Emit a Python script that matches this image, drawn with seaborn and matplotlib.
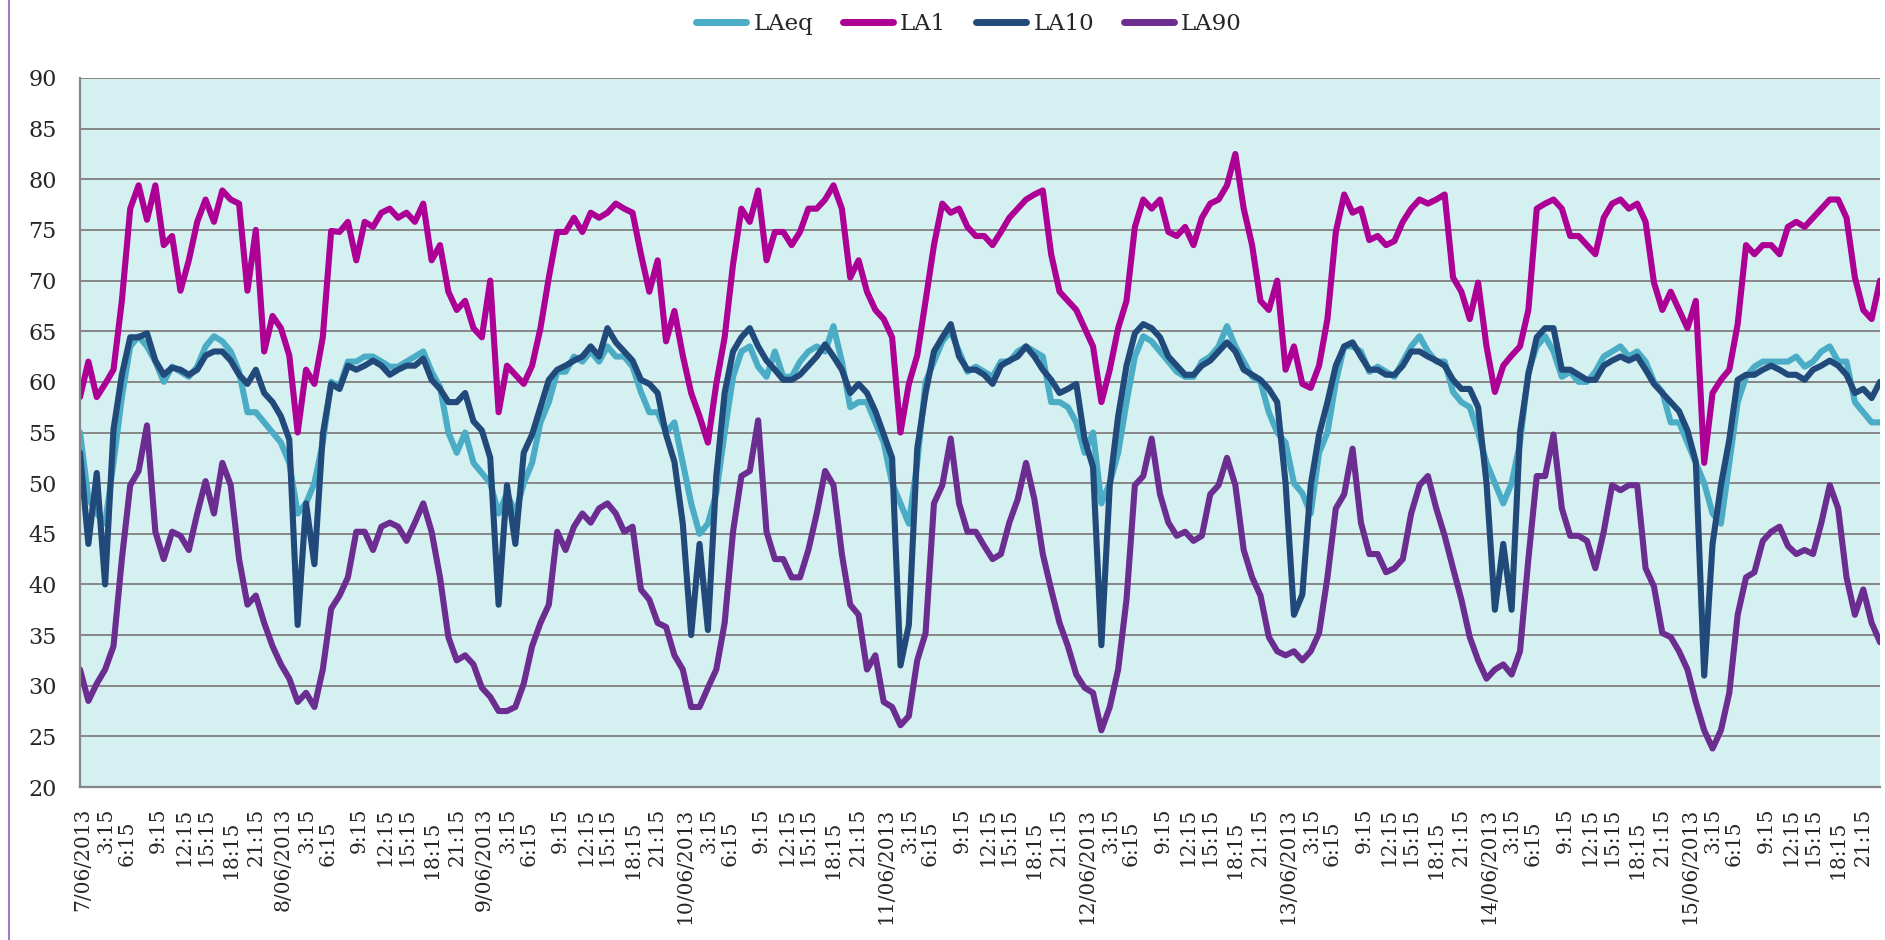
import numpy as np
import pandas as pd
import matplotlib
matplotlib.use("Agg")
import matplotlib.pyplot as plt
from matplotlib.lines import Line2D
from matplotlib.ticker import MultipleLocator
import seaborn as sns

# hourly noise levels (dB), 7/06/2013 00:00 -> 15/06/2013 23:00, one row per day
la_eq = [
    55.0, 48.5, 47.0, 46.0, 52.0, 58.5, 63.5, 64.5, 63.5, 62.0, 60.0, 61.5, 61.0, 60.5, 61.5, 63.5, 64.5, 64.0, 63.0, 61.0, 57.0, 57.0, 56.0, 55.0,
    54.0, 52.0, 47.0, 48.0, 50.0, 54.0, 60.0, 59.5, 62.0, 62.0, 62.5, 62.5, 62.0, 61.5, 61.5, 62.0, 62.5, 63.0, 61.0, 59.5, 55.0, 53.0, 55.0, 52.0,
    51.0, 50.0, 47.0, 49.0, 47.0, 50.0, 52.0, 56.0, 58.0, 61.0, 61.0, 62.5, 62.0, 63.0, 62.0, 63.5, 62.5, 62.5, 61.5, 59.0, 57.0, 57.0, 55.0, 56.0,
    52.0, 48.0, 45.0, 46.0, 49.0, 55.0, 60.5, 63.0, 63.5, 61.5, 60.5, 63.0, 60.5, 60.5, 62.0, 63.0, 63.5, 63.0, 65.5, 62.0, 57.5, 58.0, 58.0, 56.0,
    54.0, 50.0, 48.0, 46.0, 52.0, 60.0, 62.0, 64.0, 65.0, 63.0, 61.0, 61.5, 61.0, 60.5, 62.0, 62.0, 63.0, 63.5, 63.0, 62.5, 58.0, 58.0, 57.5, 56.0,
    53.0, 55.0, 48.0, 50.0, 53.0, 58.0, 62.5, 64.5, 64.0, 63.0, 62.0, 61.0, 60.5, 60.5, 62.0, 62.5, 63.5, 65.5, 63.5, 62.0, 60.5, 60.0, 57.0, 55.0,
    54.0, 50.0, 49.0, 47.0, 53.0, 55.0, 60.0, 63.5, 63.5, 63.0, 61.0, 61.5, 61.0, 60.5, 62.0, 63.5, 64.5, 63.0, 62.0, 62.0, 59.0, 58.0, 57.5, 55.0,
    52.0, 50.0, 48.0, 50.0, 54.0, 61.0, 63.5, 64.5, 63.0, 60.5, 61.0, 60.0, 60.0, 61.0, 62.5, 63.0, 63.5, 62.5, 63.0, 62.0, 60.0, 59.0, 56.0, 56.0,
    54.0, 52.0, 50.0, 47.0, 46.0, 52.0, 58.0, 60.5, 61.5, 62.0, 62.0, 62.0, 62.0, 62.5, 61.5, 62.0, 63.0, 63.5, 62.0, 62.0, 58.0, 57.0, 56.0, 56.0,
]
la_1 = [
    58.5, 62.0, 58.5, 59.8, 61.2, 68.0, 77.1, 79.4, 76.0, 79.4, 73.5, 74.4, 69.0, 72.0, 75.8, 78.0, 75.8, 78.9, 78.0, 77.6, 69.0, 75.0, 63.0, 66.5,
    65.3, 62.6, 55.0, 61.2, 59.8, 64.4, 74.9, 74.8, 75.8, 72.0, 75.8, 75.3, 76.7, 77.1, 76.2, 76.7, 75.8, 77.6, 72.0, 73.5, 68.9, 67.1, 68.0, 65.3,
    64.4, 70.0, 57.0, 61.6, 60.7, 59.8, 61.6, 65.3, 70.3, 74.8, 74.8, 76.2, 74.8, 76.7, 76.2, 76.7, 77.6, 77.1, 76.7, 72.6, 68.9, 72.0, 64.0, 67.0,
    62.6, 58.9, 56.6, 54.0, 59.8, 64.4, 71.6, 77.1, 75.8, 78.9, 72.0, 74.8, 74.8, 73.5, 74.8, 77.1, 77.1, 78.0, 79.4, 77.1, 70.3, 72.0, 68.9, 67.1,
    66.2, 64.4, 55.0, 59.8, 62.6, 68.0, 73.5, 77.6, 76.7, 77.1, 75.3, 74.4, 74.4, 73.5, 74.8, 76.2, 77.1, 78.0, 78.5, 78.9, 72.6, 68.9, 68.0, 67.1,
    65.3, 63.5, 58.0, 61.2, 65.3, 68.0, 75.3, 78.0, 77.1, 78.0, 74.8, 74.4, 75.3, 73.5, 76.2, 77.6, 78.0, 79.4, 82.5, 77.1, 73.5, 68.0, 67.1, 70.0,
    61.2, 63.5, 59.8, 59.4, 61.6, 66.2, 74.8, 78.5, 76.7, 77.1, 74.0, 74.4, 73.5, 73.9, 75.8, 77.1, 78.0, 77.6, 78.0, 78.5, 70.3, 68.9, 66.2, 69.8,
    63.5, 59.0, 61.6, 62.6, 63.5, 67.1, 77.1, 77.6, 78.0, 77.1, 74.4, 74.4, 73.5, 72.6, 76.2, 77.6, 78.0, 77.1, 77.6, 75.8, 69.8, 67.1, 68.9, 67.1,
    65.3, 68.0, 52.0, 58.9, 60.2, 61.2, 65.7, 73.5, 72.6, 73.5, 73.5, 72.6, 75.3, 75.8, 75.3, 76.2, 77.1, 78.0, 78.0, 76.2, 70.3, 67.1, 66.2, 70.0,
]
la_10 = [
    53.0, 44.0, 51.0, 40.0, 55.3, 60.7, 64.4, 64.4, 64.8, 62.1, 60.7, 61.4, 61.2, 60.7, 61.2, 62.6, 63.0, 63.0, 62.1, 60.7, 59.8, 61.2, 58.9, 58.0,
    56.6, 54.3, 36.0, 48.0, 42.0, 54.8, 59.8, 59.3, 61.6, 61.2, 61.6, 62.1, 61.6, 60.7, 61.2, 61.6, 61.6, 62.3, 60.2, 59.3, 58.0, 58.0, 58.9, 56.1,
    55.2, 52.5, 38.0, 49.8, 44.0, 53.0, 54.8, 57.5, 60.2, 61.2, 61.6, 62.1, 62.5, 63.5, 62.5, 65.3, 63.9, 63.0, 62.1, 60.2, 59.8, 58.9, 54.8, 52.1,
    46.0, 35.0, 44.0, 35.5, 50.7, 58.9, 63.0, 64.4, 65.3, 63.5, 62.1, 61.2, 60.2, 60.2, 60.7, 61.6, 62.5, 63.7, 62.5, 61.2, 58.9, 59.8, 58.9, 57.1,
    54.8, 52.5, 32.0, 36.0, 53.4, 58.9, 63.0, 64.4, 65.7, 62.5, 61.2, 61.2, 60.7, 59.8, 61.6, 62.1, 62.5, 63.5, 62.5, 61.2, 60.2, 58.9, 59.3, 59.8,
    54.3, 51.6, 34.0, 49.8, 56.6, 61.6, 64.8, 65.7, 65.3, 64.4, 62.5, 61.6, 60.7, 60.7, 61.6, 62.1, 63.0, 63.9, 63.0, 61.2, 60.7, 60.2, 59.3, 58.0,
    50.0, 37.0, 39.0, 49.8, 54.8, 58.0, 61.6, 63.5, 63.9, 62.5, 61.2, 61.2, 60.7, 60.7, 61.6, 63.0, 63.0, 62.5, 62.1, 61.6, 60.2, 59.3, 59.3, 57.5,
    50.0, 37.5, 44.0, 37.5, 55.0, 60.7, 64.4, 65.3, 65.3, 61.2, 61.2, 60.7, 60.2, 60.2, 61.6, 62.1, 62.5, 62.1, 62.5, 61.2, 59.8, 58.9, 58.0, 57.1,
    55.2, 52.1, 31.0, 44.0, 49.8, 54.3, 60.2, 60.7, 60.7, 61.2, 61.6, 61.2, 60.7, 60.7, 60.2, 61.2, 61.6, 62.1, 61.6, 60.7, 58.9, 59.3, 58.4, 60.0,
]
la_90 = [
    31.6, 28.5, 30.2, 31.6, 33.9, 42.5, 49.8, 51.2, 55.7, 45.2, 42.5, 45.2, 44.8, 43.4, 47.0, 50.2, 47.0, 52.0, 49.8, 42.5, 38.0, 38.9, 36.2, 33.9,
    32.1, 30.7, 28.4, 29.3, 27.9, 31.6, 37.6, 38.9, 40.7, 45.2, 45.2, 43.4, 45.7, 46.1, 45.7, 44.3, 46.1, 48.0, 45.2, 40.7, 34.8, 32.5, 33.0, 32.1,
    29.8, 28.9, 27.5, 27.5, 27.9, 30.2, 33.9, 36.2, 38.0, 45.2, 43.4, 45.7, 47.0, 46.1, 47.5, 48.0, 47.0, 45.2, 45.7, 39.5, 38.5, 36.2, 35.8, 33.0,
    31.6, 27.9, 27.9, 29.8, 31.6, 36.2, 45.2, 50.7, 51.2, 56.2, 45.2, 42.5, 42.5, 40.7, 40.7, 43.4, 47.0, 51.2, 49.8, 43.0, 38.0, 37.0, 31.6, 33.0,
    28.4, 27.9, 26.1, 27.0, 32.5, 35.2, 48.0, 49.8, 54.4, 48.0, 45.2, 45.2, 43.8, 42.5, 43.0, 46.1, 48.4, 52.0, 48.4, 43.0, 39.5, 36.2, 33.9, 31.1,
    29.8, 29.3, 25.6, 27.9, 31.6, 38.5, 49.8, 50.7, 54.4, 48.9, 46.1, 44.8, 45.2, 44.3, 44.8, 48.9, 49.8, 52.5, 49.8, 43.4, 40.7, 38.9, 34.8, 33.4,
    33.0, 33.4, 32.5, 33.4, 35.2, 40.7, 47.5, 48.9, 53.4, 46.1, 43.0, 43.0, 41.2, 41.6, 42.5, 47.0, 49.8, 50.7, 47.5, 44.8, 41.6, 38.5, 34.8, 32.5,
    30.7, 31.6, 32.1, 31.1, 33.4, 42.5, 50.7, 50.7, 54.8, 47.5, 44.8, 44.8, 44.3, 41.6, 45.2, 49.8, 49.3, 49.8, 49.8, 41.6, 39.8, 35.2, 34.8, 33.4,
    31.6, 28.4, 25.6, 23.8, 25.6, 29.3, 37.0, 40.7, 41.2, 44.3, 45.2, 45.7, 43.8, 43.0, 43.4, 43.0, 46.1, 49.8, 47.5, 40.7, 37.0, 39.5, 36.2, 34.3,
]

series_names = ["LAeq", "LA1", "LA10", "LA90"]
series_colors = ["#4BACC6", "#AD0095", "#214A7B", "#6C2D91"]

day_labels = ["7/06/2013", "8/06/2013", "9/06/2013", "10/06/2013", "11/06/2013",
              "12/06/2013", "13/06/2013", "14/06/2013", "15/06/2013"]
hour_labels = ["3:15", "6:15", "9:15", "12:15", "15:15", "18:15", "21:15"]

sns.set_style("white")
plt.rcParams["font.family"] = ["DejaVu Serif"]
plt.rcParams["font.size"] = 15

W, H = 1885, 940
fig = plt.figure(figsize=(W / 100, H / 100), dpi=100)
ax = fig.add_axes([80 / W, 1 - 787 / H, 1800 / W, 709 / H])
ax.set_facecolor("#D5F0F1")

times = pd.date_range("2013-06-07 00:00", periods=len(la_eq), freq="h")
hours = (times - times[0]) / pd.Timedelta(hours=1)
df = pd.DataFrame({"hour": hours, "LAeq": la_eq, "LA1": la_1, "LA10": la_10, "LA90": la_90})
long_df = df.melt(id_vars="hour", var_name="series", value_name="dB")

sns.lineplot(data=long_df, x="hour", y="dB", hue="series", hue_order=series_names,
             palette=dict(zip(series_names, series_colors)),
             legend=False, ax=ax)
for line in ax.lines:
    line.set_linewidth(4.4)
    line.set_solid_joinstyle("round")
    line.set_solid_capstyle("round")

ax.set_xlim(0, 215)
ax.set_ylim(20, 90)
ax.set_xlabel("")
ax.set_ylabel("")
ax.set_yticks(range(20, 91, 5))
ax.yaxis.grid(True, color="#878787", linewidth=1.4)
ax.xaxis.grid(False)
ax.set_axisbelow(True)
for s in ["top", "right"]:
    ax.spines[s].set_visible(False)
for s in ["left", "bottom"]:
    ax.spines[s].set_color("#878787")
    ax.spines[s].set_linewidth(1.6)
ax.tick_params(axis="y", length=5.8, width=1.4, color="#878787", pad=11, labelsize=16)

# x labels: date at midnight then every 3 hours
label_offsets = [0.3, 3.1, 5.6, 9.4, 12.4, 15.0, 18.0, 21.0]
tick_pos, tick_txt = [], []
for d, day in enumerate(day_labels):
    for off, txt in zip(label_offsets, [day] + hour_labels):
        tick_pos.append(24 * d + off)
        tick_txt.append(txt)
ax.set_xticks(tick_pos)
ax.set_xticklabels(tick_txt, rotation=90, va="top", ha="center", fontsize=14.5)
ax.tick_params(axis="x", which="major", length=0, pad=15)
ax.xaxis.set_minor_locator(MultipleLocator(0.25))
ax.tick_params(axis="x", which="minor", length=5, width=1, color="#8C8C8C")
for t, txt in zip(ax.xaxis.get_major_ticks(), tick_txt):
    if txt in ("6:15", "18:15"):
        t.set_pad(24)

handles = [Line2D([], [], color=c, linewidth=5, solid_capstyle="round") for c in series_colors]
fig.legend(handles, series_names, loc="center", bbox_to_anchor=(0.514, 0.974), ncol=4,
           frameon=False, handlelength=2.2, handletextpad=0.3, columnspacing=1.3, fontsize=16.5)

fig.add_artist(Line2D([9 / W, 9 / W], [0, 1], transform=fig.transFigure,
                      color="#9A7DC5", linewidth=1.5))

fig.savefig("out.png", dpi=100)
